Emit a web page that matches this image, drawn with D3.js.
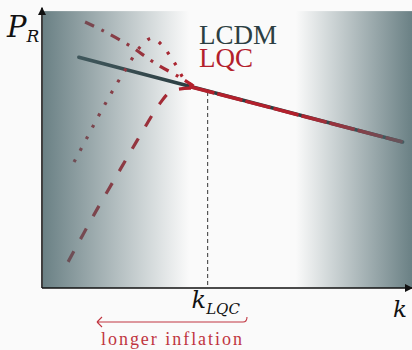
<!DOCTYPE html>
<html>
<head>
<meta charset="utf-8">
<script src="https://cdn.jsdelivr.net/npm/d3@7"></script>
<style>
  html, body { margin: 0; padding: 0; background: #fafafa; }
  svg { display: block; }
</style>
</head>
<body>
<div id="chart"></div>
<script>
// chart values (abstract units: x = log k, y = log P)
const lcdm = [[10, 83], [98, 52.5]];
const lqcMain = [[40, 72.5], [98, 52.5]];
const lqcDashDot = [[11.7, 95.7], [16.8, 92.4], [23.9, 87.1], [30.7, 80.9], [37.8, 75.5], [42, 71.9]];
const lqcDotted = [[8.7, 45.3], [12.2, 54], [15.5, 62.2], [19, 70.5], [22.8, 78.8], [26.9, 87.1],
  [29.9, 89.9], [32.6, 87.4], [34.8, 83.5], [36.7, 79.5], [38.6, 75.2], [42, 71.9]];
const lqcDashed = [[7.1, 9.4], [14.1, 26.3], [21.5, 43.2], [26.9, 55.4], [32.1, 66.5], [35.3, 70.9], [42, 71.9]];
const kLQC = 45;
const fogLeft = [0, 40];
const fogRight = [69, 100];

const width = 412;
const height = 350;
const dark = '#2c3e42';
const red = '#b3202c';
const serif = '"Liberation Serif", serif';
const mathFont = '"DejaVu Serif", serif';

const x = d3.scaleLinear().domain([0, 100]).range([42, 410]);
const y = d3.scaleLinear().domain([0, 100]).range([288, 10]);

const svg = d3.select('#chart')
    .append('svg')
    .attr('width', width)
    .attr('height', height)
    .style('background', '#fafafa');

const defs = svg.append('defs');

function fog(id, flip) {
    const g = defs.append('linearGradient').attr('id', id)
        .attr('x1', '0%').attr('x2', '100%');
    const stops = flip ? [[0, 0], [1, 0.82]] : [[0, 0.82], [1, 0]];
    stops.forEach(s => {
        g.append('stop')
            .attr('offset', s[0])
            .attr('stop-color', '#4b666b')
            .attr('stop-opacity', s[1]);
    });
}
fog('fogL', false);
fog('fogR', true);

svg.append('marker')
    .attr('id', 'axArrow')
    .attr('viewBox', '0 0 10 10')
    .attr('refX', 9).attr('refY', 5)
    .attr('markerWidth', 8).attr('markerHeight', 8)
    .attr('markerUnits', 'userSpaceOnUse')
    .attr('orient', 'auto')
    .append('path')
    .attr('d', 'M0,0 L10,5 L0,10 Z')
    .attr('fill', '#111');

const line = d3.line().x(d => x(d[0])).y(d => y(d[1]));
const curve = d3.line().x(d => x(d[0])).y(d => y(d[1])).curve(d3.curveCatmullRom.alpha(0.5));

// dashed guide at k_LQC
svg.append('line')
    .attr('x1', x(kLQC)).attr('x2', x(kLQC))
    .attr('y1', y(70.5)).attr('y2', y(0))
    .attr('stroke', '#555')
    .attr('stroke-width', 1.2)
    .attr('stroke-dasharray', '4,3');

// LCDM
svg.append('path')
    .attr('d', line(lcdm))
    .attr('fill', 'none')
    .attr('stroke', dark)
    .attr('stroke-width', 3.5)
    .attr('stroke-linecap', 'round');

// LQC curves
const redCurves = [
    { data: lqcDashDot, dash: '10,8,3,8' },
    { data: lqcDotted, dash: '3,10' },
    { data: lqcDashed, dash: '12,14' }
];
redCurves.forEach(c => {
    svg.append('path')
        .attr('d', curve(c.data))
        .attr('fill', 'none')
        .attr('stroke', red)
        .attr('stroke-width', 3.2)
        .attr('stroke-dasharray', c.dash);
});

svg.append('path')
    .attr('d', line(lqcMain))
    .attr('fill', 'none')
    .attr('stroke', red)
    .attr('stroke-width', 3.5)
    .attr('stroke-dasharray', '26,3');

// fog overlays
svg.append('rect')
    .attr('x', x(fogLeft[0]) + 1).attr('y', y(99.6))
    .attr('width', x(fogLeft[1]) - x(fogLeft[0]) - 1)
    .attr('height', y(0) - y(99.6))
    .attr('fill', 'url(#fogL)');

svg.append('rect')
    .attr('x', x(fogRight[0])).attr('y', y(99.6))
    .attr('width', x(fogRight[1]) - x(fogRight[0]) + 2)
    .attr('height', y(0) - y(99.6))
    .attr('fill', 'url(#fogR)');

// axes
svg.append('line')
    .attr('x1', x(0)).attr('y1', y(0))
    .attr('x2', x(0)).attr('y2', y(100.8))
    .attr('stroke', '#111').attr('stroke-width', 1.6)
    .attr('marker-end', 'url(#axArrow)');

svg.append('line')
    .attr('x1', x(0)).attr('y1', y(0))
    .attr('x2', width).attr('y2', y(0))
    .attr('stroke', '#111').attr('stroke-width', 1.6)
    .attr('marker-end', 'url(#axArrow)');

// labels
const pr = svg.append('text')
    .attr('x', 7).attr('y', 37)
    .attr('font-family', mathFont)
    .attr('font-style', 'italic')
    .attr('font-size', 29)
    .attr('fill', '#111');
pr.append('tspan').text('P');
pr.append('tspan').attr('font-size', 17).attr('dy', 5).text('R');

svg.append('text')
    .attr('x', 199).attr('y', 44)
    .attr('font-family', serif)
    .attr('font-size', 27)
    .attr('fill', dark)
    .text('LCDM');

svg.append('text')
    .attr('x', 199).attr('y', 67)
    .attr('font-family', serif)
    .attr('font-size', 27)
    .attr('fill', red)
    .text('LQC');

const kl = svg.append('text')
    .attr('x', x(kLQC) - 16).attr('y', 308)
    .attr('font-family', mathFont)
    .attr('font-style', 'italic')
    .attr('font-size', 24)
    .attr('fill', '#111');
kl.append('tspan').text('k');
kl.append('tspan').attr('font-size', 15).attr('dy', 6).text('LQC');

svg.append('text')
    .attr('x', 393).attr('y', 317)
    .attr('font-family', mathFont)
    .attr('font-style', 'italic')
    .attr('font-size', 23)
    .attr('fill', '#111')
    .text('k');

// "longer inflation" arrow
const annRed = '#c03540';
svg.append('path')
    .attr('d', 'M97,322 L243,322 Q247,322 247,317 M97,322 L102,317 M97,322 L102,327')
    .attr('fill', 'none')
    .attr('stroke', annRed)
    .attr('stroke-width', 1.1);

svg.append('text')
    .attr('x', 101).attr('y', 345)
    .attr('font-family', serif)
    .attr('font-size', 18)
    .attr('textLength', 141)
    .attr('lengthAdjust', 'spacing')
    .attr('fill', annRed)
    .text('longer inflation');
</script>
</body>
</html>
